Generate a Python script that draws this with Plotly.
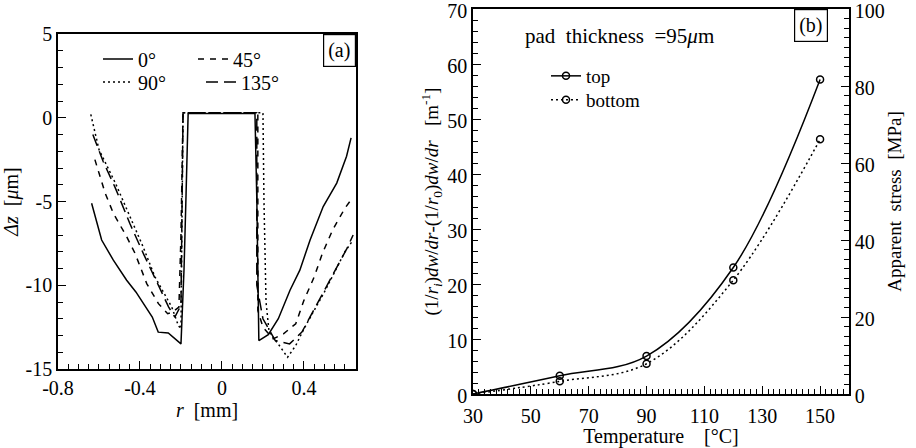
import plotly.graph_objects as go

# ---------------- Panel (a) data ----------------
r_0 = [-0.636, -0.61, -0.587, -0.53, -0.465, -0.42, -0.384, -0.34, -0.311, -0.262, -0.2, -0.185, -0.175, -0.165,
       0.161, 0.17, 0.18, 0.226, 0.275, 0.332, 0.38, 0.43, 0.494, 0.56, 0.608, 0.63]
z_0 = [-5.1, -6.3, -7.3, -8.5, -9.7, -10.4, -11.1, -11.9, -12.8, -12.85, -13.5, -9.0, -4.5, 0.25,
       0.25, -4.8, -13.3, -12.95, -12.0, -10.3, -9.1, -7.3, -5.3, -3.9, -2.3, -1.2]

r_45 = [-0.62, -0.57, -0.53, -0.465, -0.424, -0.367, -0.31, -0.265, -0.24, -0.21, -0.2, -0.19,
        0.175, 0.175, 0.2, 0.25, 0.3, 0.36, 0.4, 0.45, 0.49, 0.54, 0.6, 0.63]
z_45 = [-2.5, -4.5, -5.7, -7.1, -8.1, -9.9, -11.1, -11.7, -11.6, -11.3, -7.0, 0.3,
        0.3, -11.5, -12.5, -13.2, -12.9, -12.3, -10.9, -9.5, -8.1, -6.7, -5.4, -4.9]

r_90 = [-0.64, -0.6, -0.52, -0.44, -0.385, -0.327, -0.245, -0.213, -0.2, -0.195, -0.19,
        0.2, 0.205, 0.215, 0.23, 0.28, 0.32, 0.36, 0.4, 0.45, 0.5, 0.55, 0.6, 0.64]
z_90 = [0.2, -1.9, -3.9, -6.1, -7.7, -9.5, -11.3, -12.4, -12.6, -6.0, 0.3,
        0.3, -5.0, -11.0, -12.8, -13.6, -14.3, -13.6, -12.6, -11.5, -10.4, -9.2, -8.0, -7.3]

r_135 = [-0.63, -0.58, -0.52, -0.45, -0.38, -0.31, -0.26, -0.23, -0.2, -0.19,
         0.17, 0.17, 0.2, 0.26, 0.33, 0.39, 0.46, 0.5, 0.55, 0.61, 0.64]
z_135 = [-1.0, -2.6, -4.2, -6.3, -8.2, -10.0, -11.3, -11.9, -11.2, 0.3,
         0.3, -10.0, -12.0, -13.3, -13.5, -12.8, -11.2, -10.3, -9.2, -7.8, -7.0]

a_xticks = [-0.8, -0.4, 0, 0.4]
a_xticktext = ["-0.8", "-0.4", "0", "0.4"]
a_yticks = [5, 0, -5, -10, -15]
a_yticktext = ["5", "0", "-5", "-10", "-15"]

# ---------------- Panel (b) data ----------------
temperature = [30, 60, 90, 120, 150]
top_vals = [0.0, 3.3, 6.9, 23.0, 57.2]
bottom_vals = [0.0, 2.3, 5.5, 20.7, 46.3]
b_xticks = [30, 50, 70, 90, 110, 130, 150]

FONT = "Times New Roman, Liberation Serif, serif"
BLACK = "black"

fig = go.Figure()

# Panel (a) traces
fig.add_trace(go.Scatter(x=r_0, y=z_0, mode="lines", name="0°",
                         line=dict(color=BLACK, width=1.5), xaxis="x", yaxis="y", legend="legend"))
fig.add_trace(go.Scatter(x=r_45, y=z_45, mode="lines", name="45°",
                         line=dict(color=BLACK, width=1.5, dash="6px,6px"), xaxis="x", yaxis="y", legend="legend"))
fig.add_trace(go.Scatter(x=r_90, y=z_90, mode="lines", name="90°",
                         line=dict(color=BLACK, width=1.5, dash="2px,3px"), xaxis="x", yaxis="y", legend="legend2"))
fig.add_trace(go.Scatter(x=r_135, y=z_135, mode="lines", name="135°",
                         line=dict(color=BLACK, width=1.5, dash="12px,6px"), xaxis="x", yaxis="y", legend="legend2"))

# Panel (b) traces
fig.add_trace(go.Scatter(x=temperature, y=top_vals, mode="lines+markers", name="top",
                         line=dict(color=BLACK, width=1.5, shape="spline"),
                         marker=dict(symbol="circle-open", size=7, color=BLACK, line=dict(width=1.5)),
                         xaxis="x2", yaxis="y2", legend="legend3"))
fig.add_trace(go.Scatter(x=temperature, y=bottom_vals, mode="lines+markers", name="bottom",
                         line=dict(color=BLACK, width=1.5, shape="spline", dash="2px,3px"),
                         marker=dict(symbol="circle-open", size=7, color=BLACK, line=dict(width=1.5)),
                         xaxis="x2", yaxis="y2", legend="legend4"))
# invisible trace to activate right axis
fig.add_trace(go.Scatter(x=[temperature[0]], y=[0], mode="markers", marker=dict(opacity=0),
                         showlegend=False, hoverinfo="skip", xaxis="x2", yaxis="y3"))

W, H = 916, 448
ax_common = dict(showline=True, linecolor=BLACK, linewidth=1.5, mirror=True, ticks="inside",
                 tickcolor=BLACK, ticklen=8, tickwidth=1.2, showgrid=False, zeroline=False,
                 automargin=False, ticklabeloverflow="allow",
                 tickfont=dict(family=FONT, size=20, color=BLACK))


def leg(x, y, size=20, ew=50):
    return dict(x=x / W, y=1 - y / H, xanchor="left", yanchor="middle", bgcolor="rgba(0,0,0,0)",
                orientation="h", entrywidth=ew, entrywidthmode="pixels",
                font=dict(family=FONT, size=size, color=BLACK), tracegroupgap=0, itemwidth=30)


fig.update_layout(
    width=W, height=H,
    margin=dict(l=0, r=0, t=0, b=0),
    paper_bgcolor="white", plot_bgcolor="white",
    font=dict(family=FONT, size=19, color=BLACK),
    xaxis=dict(domain=[58 / W, 356 / W], range=[-0.8, 0.654], anchor="y",
               tickvals=a_xticks, ticktext=a_xticktext,
               minor=dict(dtick=0.05, tick0=0, ticks="inside", ticklen=5, tickcolor=BLACK, showgrid=False),
               title=dict(text="<i>r</i>  [mm]", standoff=4, font=dict(family=FONT, size=20)),
               **ax_common),
    yaxis=dict(domain=[1 - 369 / H, 1 - 34 / H], range=[-15, 5], anchor="x",
               tickvals=a_yticks, ticktext=a_yticktext,
               minor=dict(dtick=1, tick0=0, ticks="inside", ticklen=5, tickcolor=BLACK, showgrid=False),
               title=dict(text="<i>Δz</i>  [<i>μ</i>m]", standoff=6, font=dict(family=FONT, size=20)),
               **ax_common),
    xaxis2=dict(domain=[473 / W, 849 / W], range=[30, 160], anchor="y2",
                tickvals=b_xticks, ticklabelstandoff=3,
                minor=dict(dtick=2, tick0=30, ticks="inside", ticklen=5, tickcolor=BLACK, showgrid=False),
                title=dict(text="Temperature    [°C]", standoff=0, font=dict(family=FONT, size=20)),
                **ax_common),
    yaxis2=dict(domain=[1 - 394 / H, 1 - 9 / H], range=[0, 70], anchor="x2",
                dtick=10, ticklabelshift=2,
                minor=dict(dtick=2, tick0=0, ticks="inside", ticklen=5, tickcolor=BLACK, showgrid=False),
                title=dict(text="(1/<i>r<sub>i</sub></i>)<i>dw</i>/<i>dr</i>-(1/<i>r</i><sub>0</sub>)<i>dw</i>/<i>dr</i>   [m<sup>-1</sup>]",
                           standoff=4, font=dict(family=FONT, size=19)),
                **ax_common),
    yaxis3=dict(overlaying="y2", side="right", range=[0, 100], anchor="x2",
                dtick=20, showline=True, linecolor=BLACK, linewidth=1.5, ticks="inside",
                tickcolor=BLACK, ticklen=8, tickwidth=1.2, showgrid=False, zeroline=False,
                automargin=False, ticklabeloverflow="allow", ticklabelshift=2,
                tickfont=dict(family=FONT, size=20, color=BLACK),
                minor=dict(dtick=2.5, tick0=0, ticks="inside", ticklen=5, tickcolor=BLACK, showgrid=False),
                title=dict(text="Apparent  stress  [MPa]", standoff=4, font=dict(family=FONT, size=19))),
    legend=leg(98, 59),
    legend2=leg(98, 82, ew=58),
    legend3=leg(546, 76, size=19),
    legend4=leg(546, 100, size=19),
    showlegend=True,
)

fig.add_annotation(text="(a)", xref="paper", yref="paper", x=356 / W, y=1 - 34 / H,
                   xanchor="right", yanchor="top", showarrow=False,
                   font=dict(family=FONT, size=20), bordercolor=BLACK, borderwidth=1.2, borderpad=4,
                   bgcolor="white")
fig.add_annotation(text="(b)", xref="paper", yref="paper", x=828 / W, y=1 - 9 / H,
                   xanchor="right", yanchor="top", showarrow=False,
                   font=dict(family=FONT, size=20), bordercolor=BLACK, borderwidth=1.2, borderpad=4,
                   bgcolor="white")
fig.add_annotation(text="pad  thickness  =95<i>μ</i>m", xref="paper", yref="paper", x=523 / W, y=1 - 36 / H,
                   xanchor="left", yanchor="middle", showarrow=False,
                   font=dict(family=FONT, size=21))

fig.write_html("out.html", post_script="document.body.style.margin='0';",
               config={"displayModeBar": False})
